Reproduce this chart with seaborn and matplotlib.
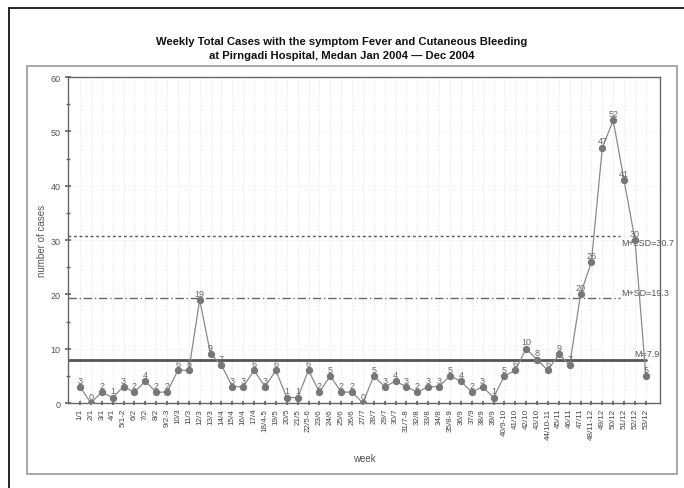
import matplotlib
matplotlib.use("Agg")
import matplotlib.pyplot as plt
import seaborn as sns
import pandas as pd
from matplotlib.patches import Rectangle
from matplotlib.lines import Line2D

weeks = ["1/1", "2/1", "3/1", "4/1", "5/1-2", "6/2", "7/2", "8/2", "9/2-3", "10/3",
         "11/3", "12/3", "13/3", "14/4", "15/4", "16/4", "17/4", "18/4-5", "19/5", "20/5",
         "21/5", "22/5-6", "23/6", "24/6", "25/6", "26/6", "27/7", "28/7", "29/7", "30/7",
         "31/7-8", "32/8", "33/8", "34/8", "35/8-9", "36/9", "37/9", "38/9", "39/9", "40/9-10",
         "41/10", "42/10", "43/10", "44/10-11", "45/11", "46/11", "47/11", "48/11-12", "49/12", "50/12",
         "51/12", "52/12", "53/12"]
cases = [3, 0, 2, 1, 3, 2, 4, 2, 2, 6,
         6, 19, 9, 7, 3, 3, 6, 3, 6, 1,
         1, 6, 2, 5, 2, 2, 0, 5, 3, 4,
         3, 2, 3, 3, 5, 4, 2, 3, 1, 5,
         6, 10, 8, 6, 9, 7, 20, 26, 47, 52,
         41, 30, 5]
ref_names = ["M=7.9", "M+SD=19.3", "M+2SD=30.7"]
ref_values = [7.9, 19.3, 30.7]

sns.set_theme(style="white")
plt.rcParams["font.family"] = ["Liberation Sans", "DejaVu Sans"]

df = pd.DataFrame({"idx": range(len(weeks)), "week": weeks, "cases": cases})

fig = plt.figure(figsize=(6.84, 4.89), dpi=100)
ax = fig.add_axes([68 / 684, 1 - 404 / 489, 592 / 684, 326 / 489])

# outer frames
fig.patches.append(Line2D([9 / 684, 1.0], [1 - 9 / 489, 1 - 9 / 489], transform=fig.transFigure,
                          color="black", lw=1.2))
fig.patches.append(Line2D([9 / 684, 9 / 684], [0.0, 1 - 9 / 489], transform=fig.transFigure,
                          color="black", lw=1.2))
fig.patches.append(Rectangle((27 / 684, 1 - 475 / 489), 650 / 684, 408 / 489,
                             transform=fig.transFigure, fill=False, edgecolor="#9a9a9a", lw=1.2))

# grid
for i in range(len(weeks)):
    ax.axvline(i, color="#d8d8d8", lw=0.6, ls=(0, (1, 2)), zorder=0)
for y in range(10, 60, 10):
    ax.axhline(y, color="#e6e6e6", lw=0.6, ls=(0, (1, 2)), zorder=0)

# reference lines: mean and mean + k*SD
styles = [dict(color="#555555", lw=2.0, ls="-"),
          dict(color="#666666", lw=1.0, ls=(0, (6, 2, 1, 2))),
          dict(color="#555555", lw=1.0, ls=(0, (2, 2)))]
line_ends = [52, 49.6, 49.6]
text_x = [50.9, 49.7, 49.7]
text_dy = [0.3, 0.3, -0.3]
text_va = ["bottom", "bottom", "top"]
for val, name, st, e, tx, dy, va in zip(ref_values, ref_names, styles, line_ends,
                                        text_x, text_dy, text_va):
    ax.plot([-1.1, e], [val, val], zorder=1, **st)
    ax.text(tx, val + dy, name, ha="left", va=va, fontsize=6.5, color="#555555",
            clip_on=False)

sns.lineplot(data=df, x="idx", y="cases", ax=ax, color="#8a8a8a", lw=0.9,
             marker="o", markersize=4.5, markerfacecolor="#777777",
             markeredgecolor="#777777", zorder=3)

for i, v in zip(df["idx"], df["cases"]):
    ax.text(i, v + 0.4, str(v), ha="center", va="bottom", fontsize=6.5, color="#666666", zorder=4)

ax.set_xlim(-1.1, 53.3)
ax.set_ylim(0, 60)
ax.set_xticks(range(len(weeks)))
ax.set_xticklabels(weeks, rotation=90, fontsize=5.8, color="#444444")
ax.set_yticks(range(0, 61, 10))
ax.set_yticks(range(5, 60, 10), minor=True)
ax.tick_params(axis="y", which="major", labelsize=6.5, labelcolor="#555555", length=4,
               direction="inout", left=True, color="#666666")
ax.tick_params(axis="y", which="minor", length=3, direction="inout", left=True, color="#666666")
ax.tick_params(axis="x", length=3, direction="inout", bottom=True, color="#666666", pad=2)
for s in ax.spines.values():
    s.set_color("#666666")
    s.set_linewidth(1.0)

ax.set_xlabel("week", fontsize=7, color="#555555", labelpad=10)
ax.set_ylabel("number of cases", fontsize=7, color="#555555", labelpad=2)

fig.text(0.5, 1 - 42 / 489, "Weekly Total Cases with the symptom Fever and Cutaneous Bleeding",
         ha="center", va="center", fontsize=8.1, fontweight="bold", color="#111111")
fig.text(0.5, 1 - 56 / 489, "at Pirngadi Hospital, Medan Jan 2004 \u2014 Dec 2004",
         ha="center", va="center", fontsize=8.1, fontweight="bold", color="#111111")

fig.savefig("out.png", dpi=100)
